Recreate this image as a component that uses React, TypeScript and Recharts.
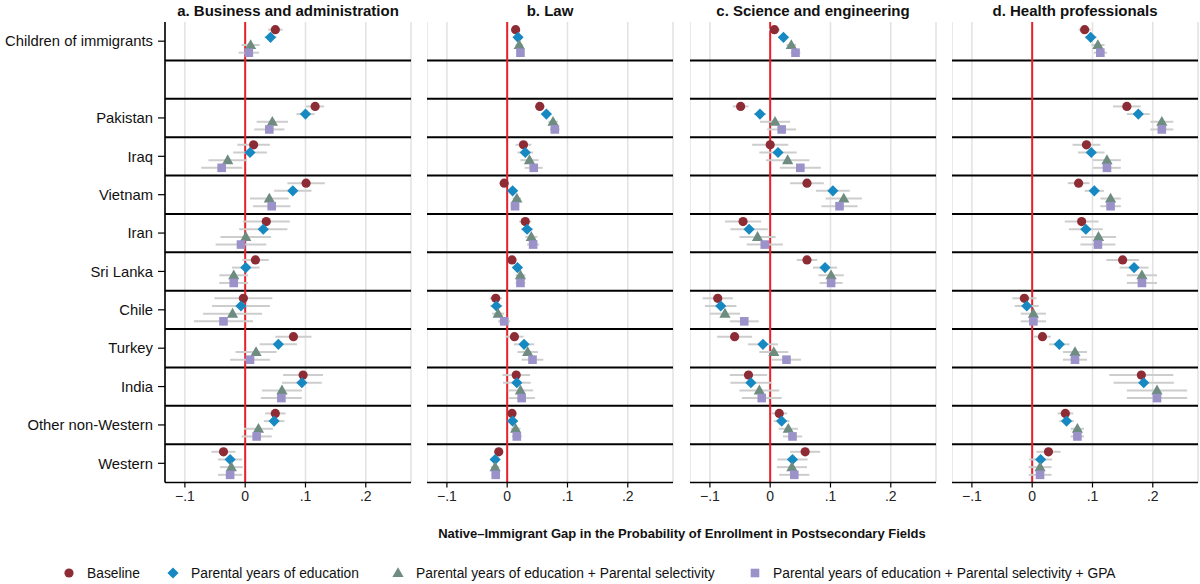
import React from 'react';
import { ScatterChart, Scatter, XAxis, YAxis, CartesianGrid, ReferenceLine, ErrorBar } from 'recharts';

const categories = ["Children of immigrants", "", "Pakistan", "Iraq", "Vietnam", "Iran", "Sri Lanka", "Chile", "Turkey", "India", "Other non-Western", "Western"];
const panelTitles = ["a. Business and administration", "b. Law", "c. Science and engineering", "d. Health professionals"];
const seriesNames = ["Baseline", "Parental years of education", "Parental years of education + Parental selectivity", "Parental years of education + Parental selectivity + GPA"];
const xTicks = [-0.1, 0, 0.1, 0.2];
const xTickLabels = ["\u2212.1", "0", ".1", ".2"];

// a. Business and administration
const busBaseline = [0.050, null, 0.116, 0.014, 0.101, 0.035, 0.017, -0.003, 0.080, 0.096, 0.050, -0.036];
const busBaselineErr = [0.012, null, 0.015, 0.027, 0.031, 0.039, 0.022, 0.048, 0.030, 0.033, 0.017, 0.020];
const busEduc = [0.042, null, 0.100, 0.008, 0.079, 0.030, 0.001, -0.007, 0.055, 0.094, 0.048, -0.025];
const busEducErr = [0.010, null, 0.015, 0.028, 0.031, 0.040, 0.023, 0.048, 0.031, 0.033, 0.017, 0.020];
const busSelect = [0.009, null, 0.045, -0.029, 0.040, 0.001, -0.019, -0.021, 0.018, 0.061, 0.022, -0.023];
const busSelectErr = [0.015, null, 0.026, 0.032, 0.032, 0.042, 0.024, 0.049, 0.034, 0.033, 0.024, 0.019];
const busGpa = [0.006, null, 0.040, -0.039, 0.044, -0.007, -0.019, -0.036, 0.008, 0.060, 0.019, -0.025];
const busGpaErr = [0.017, null, 0.025, 0.034, 0.031, 0.042, 0.024, 0.049, 0.033, 0.034, 0.025, 0.020];

// b. Law
const lawBaseline = [0.014, null, 0.054, 0.027, -0.005, 0.030, 0.008, -0.019, 0.012, 0.015, 0.008, -0.014];
const lawBaselineErr = [0.007, null, 0.008, 0.013, 0.006, 0.010, 0.006, 0.010, 0.015, 0.023, 0.006, 0.006];
const lawEduc = [0.018, null, 0.065, 0.030, 0.009, 0.033, 0.017, -0.018, 0.028, 0.016, 0.009, -0.020];
const lawEducErr = [0.006, null, 0.008, 0.013, 0.007, 0.010, 0.008, 0.010, 0.017, 0.023, 0.008, 0.007];
const lawSelect = [0.020, null, 0.076, 0.037, 0.016, 0.040, 0.022, -0.015, 0.034, 0.022, 0.014, -0.020];
const lawSelectErr = [0.006, null, 0.008, 0.015, 0.007, 0.010, 0.008, 0.010, 0.017, 0.021, 0.008, 0.007];
const lawGpa = [0.022, null, 0.079, 0.044, 0.013, 0.043, 0.022, -0.005, 0.042, 0.024, 0.016, -0.019];
const lawGpaErr = [0.006, null, 0.008, 0.015, 0.007, 0.010, 0.008, 0.010, 0.018, 0.022, 0.008, 0.007];

// c. Science and engineering
const sciBaseline = [0.007, null, -0.049, 0.000, 0.061, -0.045, 0.061, -0.087, -0.059, -0.036, 0.015, 0.058];
const sciBaselineErr = [0.009, null, 0.013, 0.030, 0.028, 0.030, 0.017, 0.025, 0.029, 0.031, 0.013, 0.025];
const sciEduc = [0.022, null, -0.017, 0.013, 0.104, -0.035, 0.091, -0.082, -0.012, -0.032, 0.019, 0.037];
const sciEducErr = [0.008, null, 0.010, 0.031, 0.028, 0.031, 0.020, 0.026, 0.025, 0.034, 0.013, 0.025];
const sciSelect = [0.035, null, 0.008, 0.029, 0.122, -0.021, 0.101, -0.075, 0.006, -0.018, 0.030, 0.036];
const sciSelectErr = [0.008, null, 0.025, 0.036, 0.030, 0.030, 0.021, 0.025, 0.024, 0.033, 0.016, 0.025];
const sciGpa = [0.042, null, 0.019, 0.050, 0.115, -0.009, 0.101, -0.043, 0.027, -0.014, 0.037, 0.040];
const sciGpaErr = [0.008, null, 0.024, 0.034, 0.030, 0.030, 0.019, 0.024, 0.024, 0.033, 0.016, 0.025];

// d. Health professionals
const hltBaseline = [0.087, null, 0.157, 0.090, 0.077, 0.082, 0.150, -0.013, 0.017, 0.181, 0.055, 0.027];
const hltBaselineErr = [0.010, null, 0.023, 0.023, 0.018, 0.028, 0.027, 0.020, 0.014, 0.053, 0.013, 0.020];
const hltEduc = [0.097, null, 0.176, 0.098, 0.103, 0.089, 0.169, -0.009, 0.045, 0.185, 0.057, 0.014];
const hltEducErr = [0.010, null, 0.019, 0.022, 0.016, 0.028, 0.024, 0.020, 0.017, 0.050, 0.012, 0.019];
const hltSelect = [0.109, null, 0.215, 0.124, 0.130, 0.110, 0.182, 0.002, 0.071, 0.207, 0.075, 0.013];
const hltSelectErr = [0.011, null, 0.019, 0.023, 0.017, 0.029, 0.025, 0.021, 0.020, 0.050, 0.011, 0.019];
const hltGpa = [0.113, null, 0.215, 0.124, 0.130, 0.109, 0.182, 0.002, 0.071, 0.207, 0.075, 0.013];
const hltGpaErr = [0.011, null, 0.019, 0.023, 0.017, 0.029, 0.025, 0.021, 0.020, 0.050, 0.011, 0.019];

const panels = [
  { est: [busBaseline, busEduc, busSelect, busGpa], err: [busBaselineErr, busEducErr, busSelectErr, busGpaErr] },
  { est: [lawBaseline, lawEduc, lawSelect, lawGpa], err: [lawBaselineErr, lawEducErr, lawSelectErr, lawGpaErr] },
  { est: [sciBaseline, sciEduc, sciSelect, sciGpa], err: [sciBaselineErr, sciEducErr, sciSelectErr, sciGpaErr] },
  { est: [hltBaseline, hltEduc, hltSelect, hltGpa], err: [hltBaselineErr, hltEducErr, hltSelectErr, hltGpaErr] },
];

const COLORS = ["#8e2c36", "#1689c2", "#6e8c80", "#9a92c9"];
const FONT = '"Liberation Sans", Arial, Helvetica, sans-serif';
const PANEL_LEFTS = [165, 427, 690, 952];
const PLOT_W = 246;
const CHART_H = 520;
const TOP = 22;
const PLOT_H = 460.5;

const drawSymbol = (s: number, cx: number, cy: number, key?: any) => {
  const c = COLORS[s];
  if (s === 0) return <circle key={key} cx={cx} cy={cy} r={4.6} fill={c} />;
  if (s === 1) {
    const d = 5.6;
    return <polygon key={key} points={`${cx},${cy - d} ${cx + d},${cy} ${cx},${cy + d} ${cx - d},${cy}`} fill={c} />;
  }
  if (s === 2) {
    return <polygon key={key} points={`${cx},${cy - 5.8} ${cx + 5.6},${cy + 4} ${cx - 5.6},${cy + 4}`} fill={c} />;
  }
  const h = 4.3;
  return <rect key={key} x={cx - h} y={cy - h} width={2 * h} height={2 * h} fill={c} />;
};

const makeShape = (s: number) => (props: any) => {
  if (props.cx == null || props.cy == null) return <g />;
  return drawSymbol(s, props.cx, props.cy);
};

const rowTicks = categories.map((c, i) => (c ? i + 0.5 : null)).filter((v) => v !== null) as number[];
const rowLines = [1, 2, 3, 4, 5, 6, 7, 8, 9, 10, 11];

function Panel({ index }: { index: number }) {
  const first = index === 0;
  const yW = first ? 165 : 0;
  const left = first ? 0 : PANEL_LEFTS[index];
  const width = yW + PLOT_W + 2;
  const p = panels[index];
  const seriesData = p.est.map((arr, s) =>
    arr
      .map((v, i) => (v === null ? null : { x: v, y: i + (s + 1) * 0.2, err: p.err[s][i] }))
      .filter((d) => d !== null)
  );
  return (
    <div style={{ position: 'absolute', left, top: 0 }}>
      <ScatterChart width={width} height={CHART_H} margin={{ top: TOP, right: 2, bottom: 0, left: 0 }}>
        <CartesianGrid horizontal={false} stroke="#e2e2e2" strokeWidth={1.5} />
        <XAxis
          type="number"
          dataKey="x"
          domain={[-0.133, 0.275]}
          ticks={xTicks}
          allowDataOverflow
          interval={0}
          tickFormatter={(v: number) => xTickLabels[xTicks.findIndex((t) => Math.abs(t - v) < 1e-9)]}
          height={CHART_H - TOP - PLOT_H}
          axisLine={{ stroke: '#000', strokeWidth: 1.6 }}
          tickLine={{ stroke: '#000', strokeWidth: 1.2 }}
          tickSize={5}
          tickMargin={4}
          tick={{ fontSize: 14, fill: '#222', fontFamily: FONT }}
        />
        <YAxis
          type="number"
          dataKey="y"
          domain={[0, 12]}
          reversed
          ticks={rowTicks}
          interval={0}
          hide={!first}
          width={yW}
          tickFormatter={(v: number) => categories[Math.floor(v)]}
          axisLine={{ stroke: '#000', strokeWidth: 1.6 }}
          tickLine={{ stroke: '#000', strokeWidth: 1.2 }}
          tickSize={7}
          tickMargin={5}
          tick={{ fontSize: 14.8, fill: '#111', fontFamily: FONT }}
        />
        {rowLines.map((k) => (
          <ReferenceLine key={k} y={k} stroke="#000" strokeWidth={2} />
        ))}
        <ReferenceLine x={0} stroke="#e8202a" strokeWidth={2} />
        {seriesData.map((data, s) => (
          <Scatter key={s} name={seriesNames[s]} data={data} isAnimationActive={false} shape={makeShape(s)}>
            <ErrorBar dataKey="err" direction="x" width={0} stroke="#cdcdcd" strokeWidth={2} />
          </Scatter>
        ))}
      </ScatterChart>
    </div>
  );
}

const legendX = [69, 173, 398, 755];

export default function App() {
  return (
    <div style={{ position: 'absolute', left: 0, top: 0, width: 1200, height: 584, background: '#fff', fontFamily: FONT, overflow: 'hidden' }}>
      {[0, 1, 2, 3].map((i) => (
        <Panel key={i} index={i} />
      ))}
      <svg width={1200} height={584} style={{ position: 'absolute', left: 0, top: 0, pointerEvents: 'none' }}>
        {panelTitles.map((t, i) => (
          <text key={t} x={PANEL_LEFTS[i] + PLOT_W / 2} y={16} textAnchor="middle" fontFamily={FONT} fontWeight="bold" fontSize={15} fill="#111">
            {t}
          </text>
        ))}
        <text x={682} y={538} textAnchor="middle" fontFamily={FONT} fontWeight="bold" fontSize={13} fill="#111">
          Native–Immigrant Gap in the Probability of Enrollment in Postsecondary Fields
        </text>
        {seriesNames.map((n, s) => (
          <g key={n}>
            {drawSymbol(s, legendX[s], 573)}
            <text x={legendX[s] + 18} y={573} dominantBaseline="central" fontFamily={FONT} fontSize={13.8} fill="#111">
              {n}
            </text>
          </g>
        ))}
      </svg>
    </div>
  );
}
